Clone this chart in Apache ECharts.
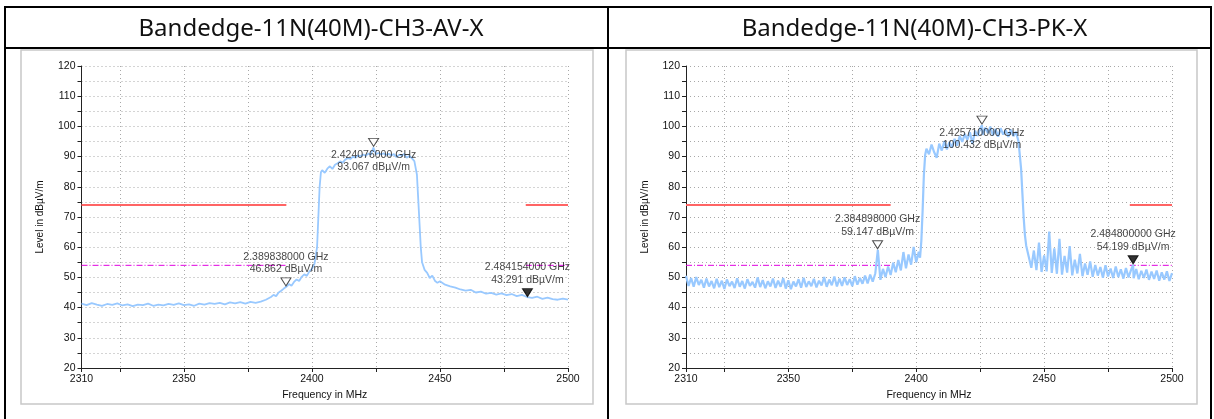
<!DOCTYPE html>
<html>
<head>
<meta charset="utf-8">
<script src="https://cdn.jsdelivr.net/npm/echarts@6/dist/echarts.min.js"></script>
<style>
html, body { margin: 0; padding: 0; background: #fff; }
#main { width: 1214px; height: 419px; }
</style>
</head>
<body>
<div id="main"></div>
<script>
// panel titles
const titles = ['Bandedge-11N(40M)-CH3-AV-X', 'Bandedge-11N(40M)-CH3-PK-X'];

// axis ticks / labels (MHz, dBµV/m)
const xTicks = [2310, 2325, 2350, 2375, 2400, 2425, 2450, 2475, 2500];
const xLabels = [2310, 2350, 2400, 2450, 2500];

// limits
const limitLevel = 74;
const avgLevel = 54;
const restrictFrom = [2310, 2483.5];
const restrictTo = [2390, 2500];

// AV trace
const avFreq = [
  2310, 2312, 2314, 2316, 2318, 2320, 2322, 2324, 2326, 2328, 2330, 2332, 2334, 2336, 2338, 2340, 2342, 2344,
  2346, 2348, 2350, 2352, 2354, 2356, 2358, 2360, 2362, 2364, 2366, 2368, 2370, 2372, 2374, 2376, 2378, 2380,
  2382, 2384, 2385, 2386, 2387, 2388, 2389, 2390, 2391, 2392, 2393, 2394, 2395, 2396, 2397, 2398, 2399, 2400, 2401,
  2402, 2402.5, 2403, 2403.5,
  2404, 2405, 2406, 2407, 2408, 2409, 2410, 2411, 2412, 2413, 2414, 2415, 2416, 2417, 2418, 2419, 2420, 2421, 2422,
  2423, 2424, 2425, 2426, 2427, 2428, 2429, 2430, 2431, 2432, 2433, 2434, 2435, 2436, 2437, 2438, 2439, 2440,
  2441, 2441.5, 2442, 2442.5, 2443,
  2444, 2445, 2446, 2447, 2448, 2449, 2450,
  2452, 2454, 2456, 2458, 2460, 2462, 2464, 2466, 2468, 2470, 2472, 2474, 2476, 2478, 2480, 2482, 2484, 2486,
  2488, 2490, 2492, 2494, 2496, 2498, 2500
];
const avLevel = [
  41.3, 40.8, 41.5, 41.0, 40.6, 41.2, 40.9, 41.4, 40.7, 41.1, 40.5, 41.0, 40.8, 41.3, 40.6, 41.0, 40.7, 41.2,
  40.9, 41.4, 40.8, 41.1, 40.6, 41.3, 41.0, 41.5, 41.2, 41.6, 41.1, 41.7, 41.4, 41.8, 41.3, 41.9, 41.6, 42.0,
  42.6, 43.5, 44.2, 43.8, 45.0, 45.6, 46.3, 46.9, 47.8, 47.2, 48.5, 49.3, 48.8, 50.2, 51.0, 50.5, 52.0, 52.8, 54.5,
  60, 70, 80, 84.8,
  85.5, 84.6, 86.0, 86.8, 85.9, 87.3, 87.8, 88.4, 88.0, 89.0, 89.5, 89.2, 90.0, 89.6, 90.4, 90.1, 90.7, 90.3, 91.0,
  90.6, 93.0, 90.8, 91.2, 90.7, 91.1, 90.5, 90.9, 90.4, 90.8, 89.8, 90.6, 90.3, 90.9, 89.6, 90.2, 89.5, 88.5,
  84, 76, 68, 60, 55,
  52.5, 51.5, 49.8, 50.6, 48.9, 48.2, 48.7,
  47.6, 47.0, 46.6, 46.0, 45.6, 45.9, 45.0, 45.3, 44.6, 44.9, 44.3, 44.7, 44.1, 44.5, 43.8, 44.2, 43.5, 43.2,
  43.6, 42.9, 43.3, 42.8, 42.6, 43.0, 42.6
];

// PK trace
const pkFreq = [
  2310, 2311, 2312, 2313, 2314, 2315, 2316, 2317, 2318, 2319,
  2320, 2321, 2322, 2323, 2324, 2325, 2326, 2327, 2328, 2329,
  2330, 2331, 2332, 2333, 2334, 2335, 2336, 2337, 2338, 2339,
  2340, 2341, 2342, 2343, 2344, 2345, 2346, 2347, 2348, 2349,
  2350, 2351, 2352, 2353, 2354, 2355, 2356, 2357, 2358, 2359,
  2360, 2361, 2362, 2363, 2364, 2365, 2366, 2367, 2368, 2369,
  2370, 2371, 2372, 2373, 2374, 2375, 2376, 2377, 2378, 2379,
  2380, 2381, 2382, 2383, 2384, 2385, 2386, 2387, 2388, 2389,
  2390, 2391, 2392, 2393, 2394, 2395, 2396, 2397, 2398, 2399,
  2400, 2401, 2401.5, 2402, 2402.5, 2403, 2403.5,
  2404, 2405, 2406, 2407, 2408, 2409, 2410, 2411, 2412, 2413, 2414, 2415, 2416, 2417, 2418, 2419, 2420, 2421,
  2422, 2423, 2424, 2425, 2425.7,
  2426, 2427, 2428, 2429, 2430, 2431, 2432, 2433, 2434, 2435, 2436, 2437, 2438, 2439, 2440,
  2441, 2441.5, 2442, 2442.5, 2443, 2444,
  2445, 2446, 2447, 2448, 2449, 2450, 2451, 2452, 2453, 2454, 2455, 2456, 2457, 2458, 2459, 2460, 2461, 2462,
  2463, 2464, 2465, 2466, 2467, 2468, 2469, 2470, 2471, 2472, 2473, 2474, 2475, 2476, 2477, 2478, 2479, 2480,
  2481, 2482, 2483, 2484, 2484.8,
  2485, 2486, 2487, 2488, 2489, 2490, 2491, 2492, 2493, 2494, 2495, 2496, 2497, 2498, 2499, 2500
];
const pkLevel = [
  50.5, 47.2, 49.8, 46.9, 50.1, 47.5, 49.2, 46.6, 49.6, 47.0,
  48.8, 46.4, 49.5, 46.8, 48.9, 46.2, 49.3, 47.1, 48.6, 46.5,
  49.7, 46.9, 48.8, 46.3, 49.4, 47.2, 48.5, 46.6, 50.0, 46.8,
  49.1, 46.4, 48.7, 47.0, 49.6, 46.5, 48.9, 46.9, 49.8, 46.3,
  49.0, 46.1, 48.6, 47.0, 49.4, 46.6, 49.9, 46.8, 48.7, 47.1,
  49.5, 46.7, 48.9, 47.3, 50.1, 46.9, 49.3, 47.4, 50.3, 47.0,
  49.6, 47.2, 50.0, 47.5, 49.4, 47.1, 50.4, 47.6, 49.8, 47.9,
  50.6, 48.0, 50.9, 48.6, 51.3, 59.1, 49.2, 52.8, 50.1, 53.6,
  50.8, 54.9, 51.7, 55.8, 52.3, 58.4, 53.0, 57.6, 54.2, 60.1,
  55.0, 58.5, 56.5, 62, 72, 84, 90.5,
  92.6, 90.8, 94.0, 91.5, 89.6, 94.3, 92.0, 95.1, 92.4, 94.8, 93.0, 95.9, 93.6, 96.8, 94.9, 97.5, 95.6, 98.1,
  94.2, 98.6, 96.9, 99.3, 100.4,
  97.2, 99.6, 97.8, 99.9, 97.0, 99.2, 96.6, 99.4, 97.3, 98.8, 96.5, 98.9, 96.8, 98.2, 95.0,
  86, 78, 70, 64, 60.5, 56.8,
  53.2, 58.9, 52.4, 61.5, 51.8, 57.3, 52.0, 65.2, 51.5, 59.6, 51.2, 62.8, 50.9, 57.1, 51.6, 60.4, 50.7, 55.9,
  51.3, 57.8, 50.4, 54.6, 50.9, 55.3, 50.2, 54.1, 50.6, 53.4, 49.9, 54.0, 50.3, 52.9, 49.8, 53.6, 50.1, 52.7,
  49.6, 53.1, 50.0, 52.5, 54.2,
  49.7, 52.8, 49.4, 52.2, 49.8, 52.6, 49.2, 51.9, 49.5, 52.3, 48.9, 51.7, 49.3, 52.0, 48.8, 51.4
];

// markers (MHz, dBµV/m)
const avMarkFreq = [2389.838, 2424.076, 2484.154];
const avMarkLevel = [46.862, 93.067, 43.291];
const pkMarkFreq = [2384.898, 2425.71, 2484.8];
const pkMarkLevel = [59.147, 100.432, 54.199];

const FONT = '"Liberation Sans", Arial, sans-serif';
const chart = echarts.init(document.getElementById('main'));

const grids = [
  { left: 81.5, top: 66, width: 486.5, height: 302 },
  { left: 686, top: 66, width: 486, height: 302 }
];

function zip(xs, ys) {
  return xs.map((x, i) => [x, ys[i]]);
}

const gridLine = { show: true, lineStyle: { type: [1, 3], color: '#a8a8a8', width: 1 } };

function makeXAxis(g) {
  return {
    type: 'value', gridIndex: g, min: 2310, max: 2500,
    name: 'Frequency in MHz', nameLocation: 'middle', nameGap: 22,
    nameTextStyle: { fontFamily: FONT, fontSize: 10.5, color: '#111' },
    axisLine: { lineStyle: { color: '#222', width: 1 } },
    axisTick: { show: true, length: 4, customValues: xTicks, lineStyle: { color: '#222' } },
    axisLabel: {
      customValues: xLabels, margin: 6, fontFamily: FONT, fontSize: 10.5, color: '#111',
      formatter: v => String(v)
    },
    splitLine: gridLine
  };
}

function makeYAxis(g) {
  return {
    type: 'value', gridIndex: g, min: 20, max: 120, interval: 5,
    name: 'Level in dBµV/m', nameLocation: 'middle', nameGap: 36,
    nameTextStyle: { fontFamily: FONT, fontSize: 10, color: '#111' },
    axisLine: { show: true, lineStyle: { color: '#222', width: 1 } },
    axisTick: { show: true, length: 4, lineStyle: { color: '#222' } },
    axisLabel: {
      margin: 6, fontFamily: FONT, fontSize: 10.5, color: '#111',
      formatter: v => (v % 10 === 0 ? String(v) : '')
    },
    splitLine: gridLine
  };
}

function panelSeries(g, freq, level, markFreq, markLevel, traceWidth) {
  const list = [];
  list.push({
    type: 'line', xAxisIndex: g, yAxisIndex: g, data: zip(freq, level),
    showSymbol: false, symbol: 'none', z: 2,
    lineStyle: { color: '#99c9ff', width: traceWidth, join: 'bevel' }
  });
  for (let i = 0; i < restrictFrom.length; i++) {
    list.push({
      type: 'line', xAxisIndex: g, yAxisIndex: g, symbol: 'none', z: 3,
      data: [[restrictFrom[i], limitLevel], [restrictTo[i], limitLevel]],
      lineStyle: { color: '#ff6464', width: 2 }
    });
    list.push({
      type: 'line', xAxisIndex: g, yAxisIndex: g, symbol: 'none', z: 1,
      data: [[restrictFrom[i], avgLevel], [restrictTo[i], avgLevel]],
      lineStyle: { color: '#e000e0', width: 1, type: [6, 2, 1, 2] }
    });
  }
  list.push({
    type: 'scatter', xAxisIndex: g, yAxisIndex: g, z: 5,
    symbol: 'triangle', symbolRotate: 180, symbolSize: [10, 8], symbolOffset: [0, -5],
    data: markFreq.map((f, i) => ({
      value: [f, markLevel[i]],
      itemStyle: i === 2
        ? { color: '#000', borderColor: '#000', borderWidth: 1 }
        : { color: '#fff', borderColor: '#222', borderWidth: 1 },
      label: { position: i === 1 ? 'bottom' : 'top' }
    })),
    label: {
      show: true, distance: 2, fontFamily: FONT, fontSize: 10.5, color: '#111', lineHeight: 12.5,
      formatter: p => (p.value[0] / 1000).toFixed(9) + ' GHz\n' + p.value[1].toFixed(3) + ' dBµV/m'
    }
  });
  return list;
}

const line = (x1, y1, x2, y2, color, w) => ({
  type: 'line', silent: true, z: 100,
  shape: { x1, y1, x2, y2 }, style: { stroke: color, lineWidth: w }
});

const option = {
  animation: false,
  backgroundColor: '#fff',
  title: titles.map((t, i) => ({
    text: t, left: i === 0 ? 306 : 909.5, top: 12, textAlign: 'center',
    textStyle: { fontFamily: '"Noto Sans", sans-serif', fontSize: 24, fontWeight: 'normal', color: '#111' }
  })),
  grid: grids,
  xAxis: [makeXAxis(0), makeXAxis(1)],
  yAxis: [makeYAxis(0), makeYAxis(1)],
  series: [
    ...panelSeries(0, avFreq, avLevel, avMarkFreq, avMarkLevel, 1.8),
    ...panelSeries(1, pkFreq, pkLevel, pkMarkFreq, pkMarkLevel, 2.2)
  ],
  graphic: [
    { type: 'rect', silent: true, shape: { x: 21, y: 50, width: 572, height: 354 },
      style: { fill: 'none', stroke: '#c8c8c8', lineWidth: 1.5 } },
    { type: 'rect', silent: true, shape: { x: 626, y: 50, width: 571, height: 354 },
      style: { fill: 'none', stroke: '#c8c8c8', lineWidth: 1.5 } },
    line(4, 7, 1212, 7, '#000', 2),
    line(4, 48, 1212, 48, '#000', 2),
    line(5, 6, 5, 419, '#000', 2),
    line(608, 6, 608, 419, '#000', 2),
    line(1211, 6, 1211, 419, '#000', 2)
  ]
};

chart.setOption(option);
</script>
</body>
</html>
